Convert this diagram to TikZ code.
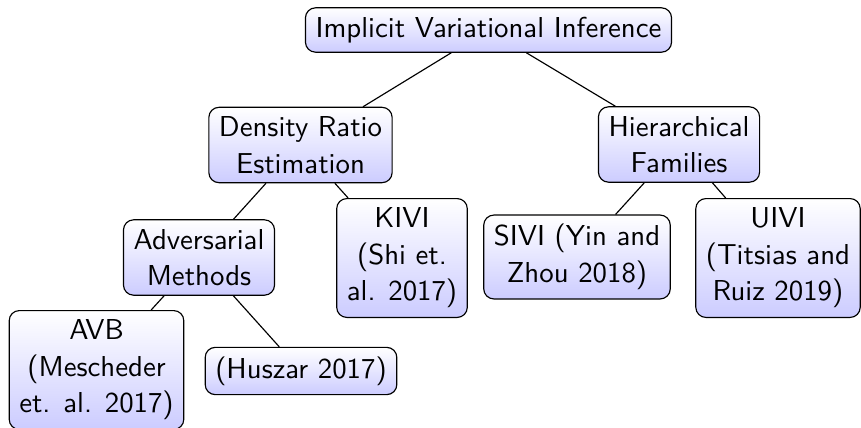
\documentclass[tikz,border=0pt]{standalone}
\begin{document}
\begin{tikzpicture}[x=0.347pt,y=-0.347pt,
  treebox/.style={draw=black, rounded corners=3.5pt, top color=white, bottom color=blue!20,
    align=center, font=\sffamily\fontsize{10}{12.7}\selectfont, inner xsep=3.5pt, inner ysep=3.2pt},
  edge/.style={draw=black, line width=0.4pt}]
\useasboundingbox (0,0) rectangle (861,428);
\node[treebox] (root) at (488.5,30) {Implicit Variational Inference};
\node[treebox] (dre) at (300.5,145) {Density Ratio\\Estimation};
\node[treebox] (hf) at (679,144.5) {Hierarchical\\Families};
\node[treebox] (adv) at (199,257.5) {Adversarial\\Methods};
\node[treebox] (kivi) at (402,258) {KIVI\\(Shi et.\\al. 2017)};
\node[treebox] (sivi) at (577,257) {SIVI (Yin and\\Zhou 2018)};
\node[treebox] (uivi) at (778,258) {UIVI\\(Titsias and\\Ruiz 2019)};
\node[treebox] (avb) at (96.5,370) {AVB\\(Mescheder\\et. al. 2017)};
\node[treebox] (hus) at (301,371) {(Huszar 2017)};
\draw[edge] (root) -- (dre);
\draw[edge] (root) -- (hf);
\draw[edge] (dre) -- (adv);
\draw[edge] (dre) -- (kivi);
\draw[edge] (hf) -- (sivi);
\draw[edge] (hf) -- (uivi);
\draw[edge] (adv) -- (avb);
\draw[edge] (adv) -- (hus);
\end{tikzpicture}
\end{document}
